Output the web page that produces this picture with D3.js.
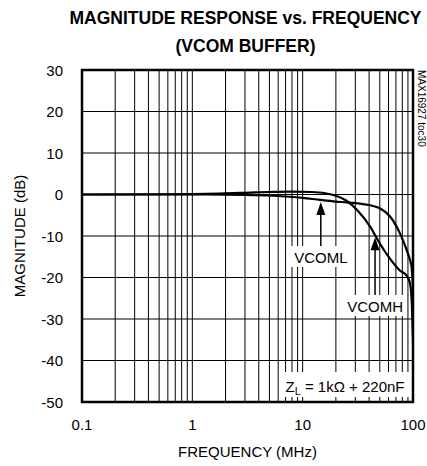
<!DOCTYPE html>
<html>
<head>
<meta charset="utf-8">
<script src="https://cdn.jsdelivr.net/npm/d3@7"></script>
<style>
  html, body { margin: 0; padding: 0; background: #fff; }
  svg { display: block; font-family: "Liberation Sans", Arial, sans-serif; }
</style>
</head>
<body>
<div id="chart"></div>
<script>
// Frequency sweep (MHz) and measured gain (dB) for each buffer output
const vcomhFreq = [0.1, 1, 3, 5, 8, 12, 16, 20, 25, 31, 41, 50, 62, 76, 88, 94, 97, 100];
const vcomhDb   = [0, 0.1, 0.4, 0.6, 0.7, 0.6, 0.3, -0.3, -1.5, -3.7, -7.8, -11.8, -15.5, -18.3, -19.6, -21.4, -25, -35];

const vcomlFreq = [0.1, 1, 3, 5.4, 10, 14.4, 20, 25, 33, 41, 50, 62, 76, 88, 94, 97, 100];
const vcomlDb   = [0, 0, -0.1, -0.3, -0.8, -1.3, -1.7, -1.9, -2.2, -2.6, -3.3, -5.3, -9.3, -13.5, -15.8, -17.4, -22];

// Axis ticks
const xTickValues = [0.1, 1, 10, 100];
const xTickLabels = ["0.1", "1", "10", "100"];
const yTickValues = [30, 20, 10, 0, -10, -20, -30, -40, -50];

// Curve annotations: label, frequency the arrow points at, series it points to
const annotations = [
  { label: "VCOML", freq: 14.6, series: "vcoml" },
  { label: "VCOMH", freq: 45.3, series: "vcomh" }
];

const W = 427, H = 466;
const margin = { left: 82, right: 14, top: 70, bottom: 64 };
const x0 = margin.left, x1 = W - margin.right;
const y0 = margin.top, y1 = H - margin.bottom;

const svg = d3.select("#chart").append("svg")
  .attr("width", W).attr("height", H);

const x = d3.scaleLog().domain([0.1, 100]).range([x0, x1]);
const y = d3.scaleLinear().domain([-50, 30]).range([y1, y0]);

// Title
svg.append("text")
  .attr("x", (x0 + x1) / 2 - 2).attr("y", 24)
  .attr("text-anchor", "middle")
  .attr("font-size", 17.5).attr("font-weight", "bold")
  .text("MAGNITUDE RESPONSE vs. FREQUENCY");
svg.append("text")
  .attr("x", (x0 + x1) / 2 - 2).attr("y", 52)
  .attr("text-anchor", "middle")
  .attr("font-size", 17.5).attr("font-weight", "bold")
  .text("(VCOM BUFFER)");

// Grid
const grid = svg.append("g");
const minorFreqs = [];
[0.1, 1, 10].forEach(dec => {
  for (let k = 1; k <= 9; k++) {
    const f = dec * k;
    if (f > 0.1 && f < 100) minorFreqs.push(f);
  }
});
grid.selectAll("line.v").data(minorFreqs).join("line")
  .attr("x1", d => x(d)).attr("x2", d => x(d))
  .attr("y1", y0).attr("y2", y1)
  .attr("stroke", "#000").attr("stroke-width", 1);
grid.selectAll("line.h").data(yTickValues.slice(1, -1)).join("line")
  .attr("x1", x0).attr("x2", x1)
  .attr("y1", d => y(d)).attr("y2", d => y(d))
  .attr("stroke", "#000").attr("stroke-width", 1);

// White backing boxes behind the annotation text
const boxes = svg.append("g");
boxes.append("rect").attr("x", 290).attr("y", 246).attr("width", 58).attr("height", 21).attr("fill", "#fff");
boxes.append("rect").attr("x", 345).attr("y", 295).attr("width", 60).attr("height", 21).attr("fill", "#fff");
boxes.append("rect").attr("x", 280).attr("y", 372).attr("width", 130).attr("height", 25).attr("fill", "#fff");

// Curves
const line = d3.line()
  .x(d => x(d[0])).y(d => y(d[1]))
  .curve(d3.curveMonotoneX);
const seriesData = {
  vcomh: d3.zip(vcomhFreq, vcomhDb),
  vcoml: d3.zip(vcomlFreq, vcomlDb)
};
Object.values(seriesData).forEach(pts => {
  svg.append("path")
    .attr("d", line(pts))
    .attr("fill", "none")
    .attr("stroke", "#000")
    .attr("stroke-width", 2.2);
});

// Annotation arrows and labels
const labelY = { VCOML: 263, VCOMH: 312 };
const boxTop = { VCOML: 246, VCOMH: 295 };
annotations.forEach(a => {
  const pts = seriesData[a.series];
  const fx = x(a.freq);
  // interpolate the curve value in log frequency
  const lf = pts.map(p => Math.log10(p[0]));
  const v = d3.scaleLinear().domain(lf).range(pts.map(p => p[1]))(Math.log10(a.freq));
  const tipY = y(v) + 2;
  svg.append("line")
    .attr("x1", fx).attr("x2", fx)
    .attr("y1", tipY + 10).attr("y2", boxTop[a.label])
    .attr("stroke", "#000").attr("stroke-width", 1.5);
  svg.append("path")
    .attr("d", `M${fx},${tipY} L${fx - 4.5},${tipY + 13} L${fx + 4.5},${tipY + 13} Z`)
    .attr("fill", "#000");
  svg.append("text")
    .attr("x", fx).attr("y", labelY[a.label])
    .attr("text-anchor", "middle")
    .attr("font-size", 15)
    .text(a.label);
});

// Load note
const zl = svg.append("text")
  .attr("x", 345).attr("y", 392)
  .attr("text-anchor", "middle")
  .attr("font-size", 15);
zl.append("tspan").text("Z");
zl.append("tspan").attr("font-size", 11).attr("dy", 3).text("L");
zl.append("tspan").attr("dy", -3).text(" = 1kΩ + 220nF");

// Frame
svg.append("rect")
  .attr("x", x0).attr("y", y0)
  .attr("width", x1 - x0).attr("height", y1 - y0)
  .attr("fill", "none").attr("stroke", "#000").attr("stroke-width", 2.5);

// Axes tick labels
svg.append("g").selectAll("text").data(xTickValues).join("text")
  .attr("x", d => x(d)).attr("y", 430)
  .attr("text-anchor", "middle")
  .attr("font-size", 15)
  .text((d, i) => xTickLabels[i]);
svg.append("g").selectAll("text").data(yTickValues).join("text")
  .attr("x", 63).attr("y", d => y(d) + 5.5)
  .attr("text-anchor", "end")
  .attr("font-size", 15)
  .text(d => d);

// Axis titles
svg.append("text")
  .attr("x", (x0 + x1) / 2).attr("y", 457)
  .attr("text-anchor", "middle")
  .attr("font-size", 15)
  .text("FREQUENCY (MHz)");
svg.append("text")
  .attr("transform", `translate(25,${(y0 + y1) / 2}) rotate(-90)`)
  .attr("text-anchor", "middle")
  .attr("font-size", 15)
  .text("MAGNITUDE (dB)");

// Part reference along the right edge
svg.append("text")
  .attr("transform", `translate(418,${y0}) rotate(90)`)
  .attr("text-anchor", "start")
  .attr("font-size", 10)
  .text("MAX16927 toc30");
</script>
</body>
</html>
